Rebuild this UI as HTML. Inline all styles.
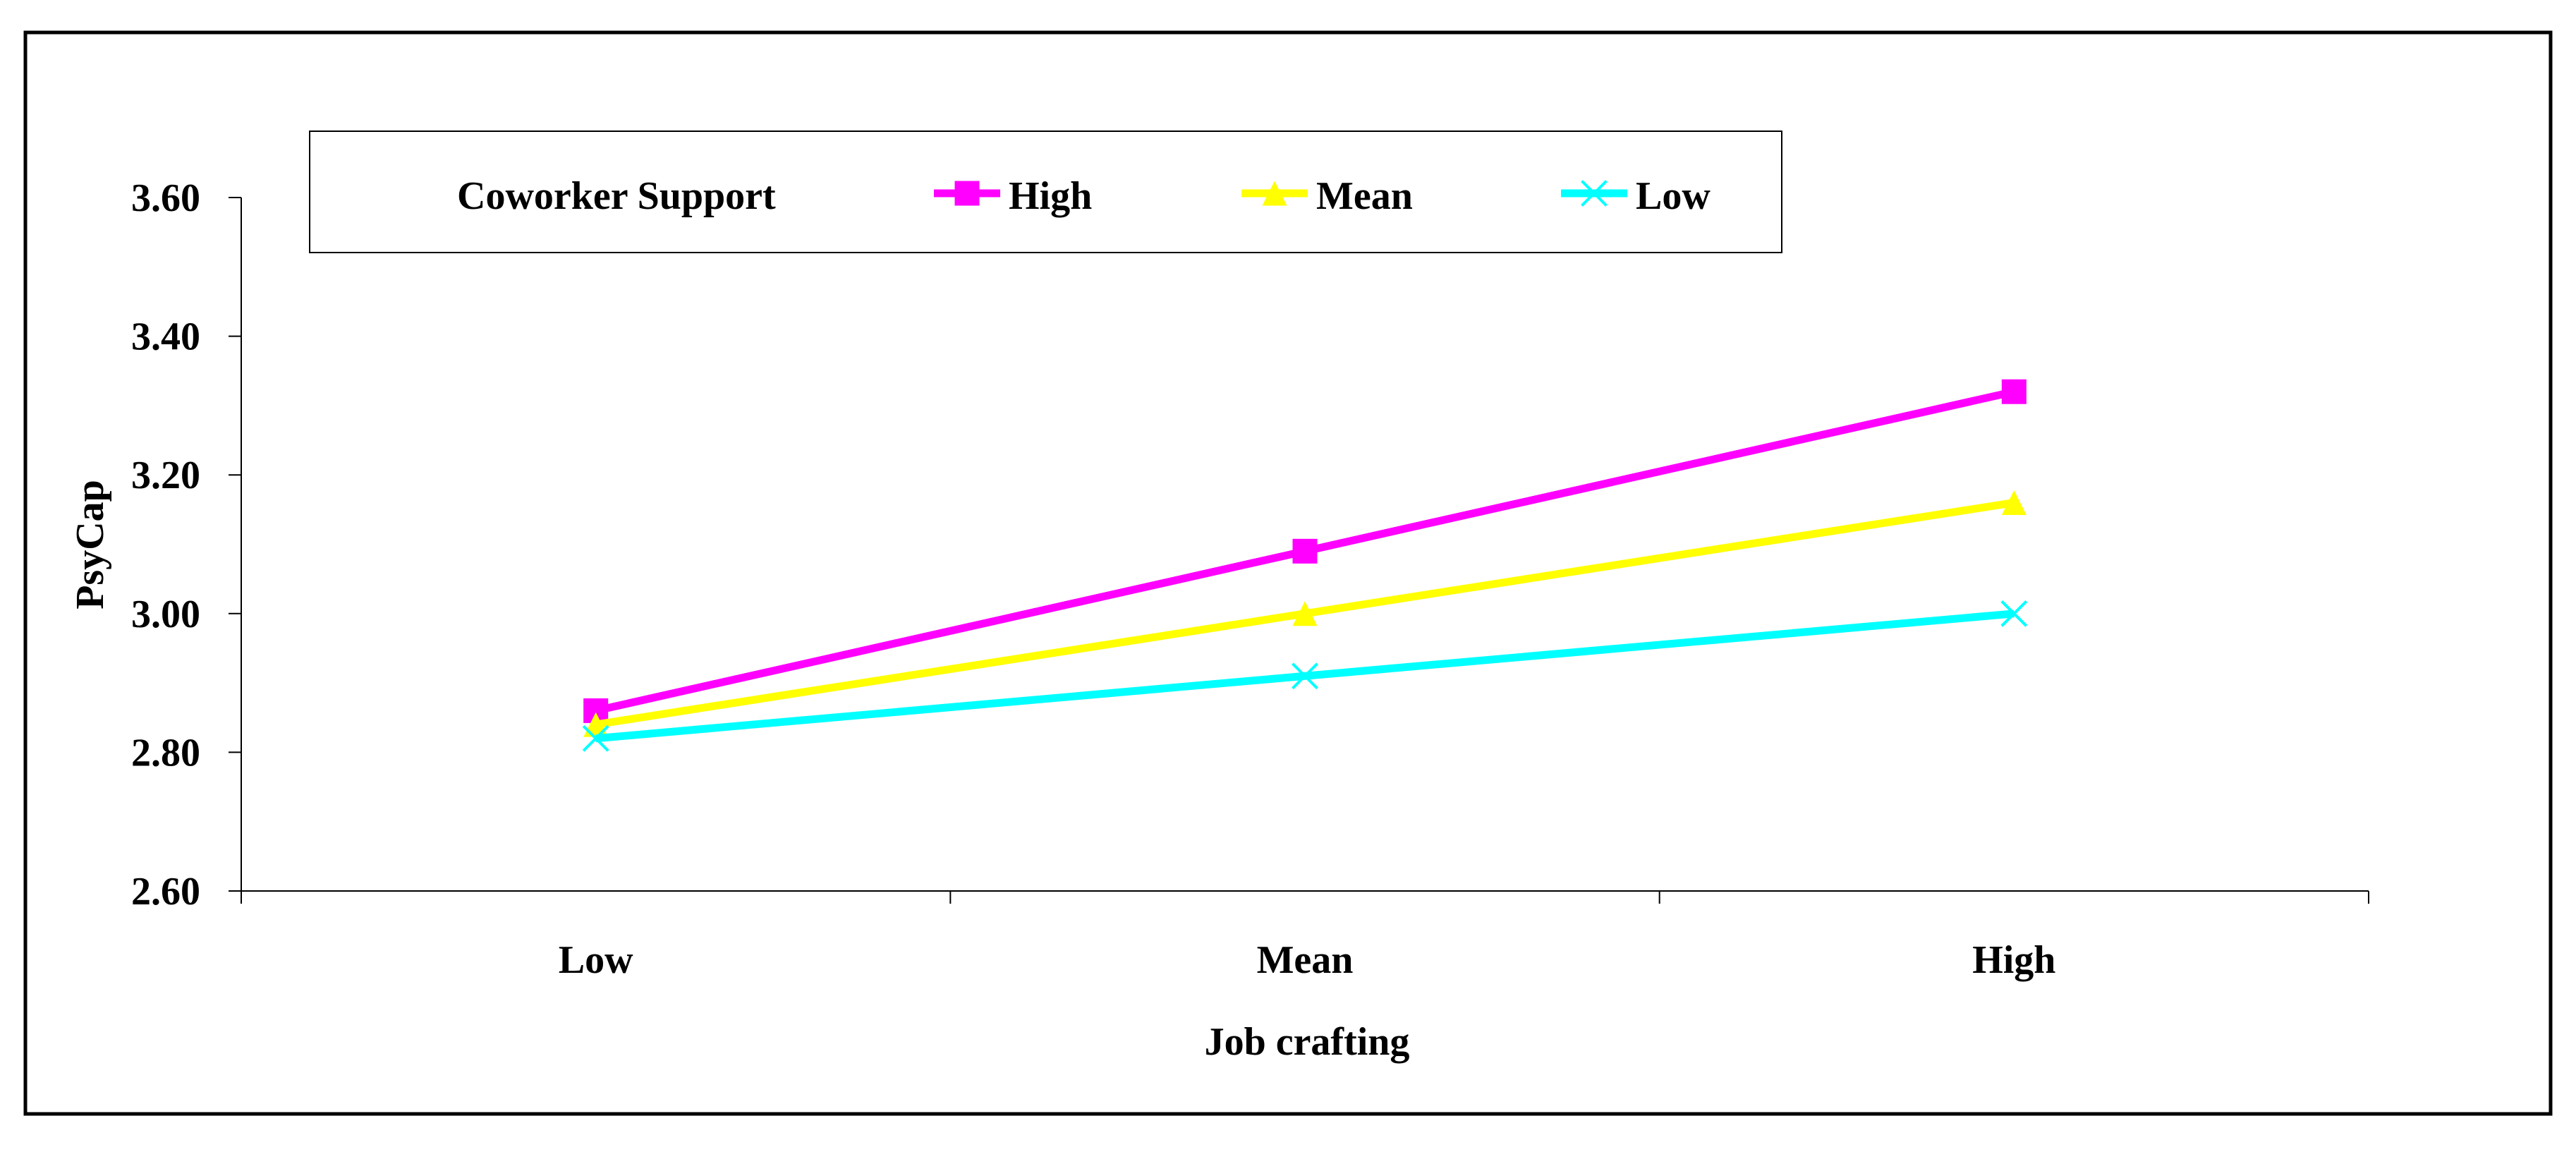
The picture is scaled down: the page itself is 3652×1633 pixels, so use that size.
<!DOCTYPE html>
<html><head><meta charset="utf-8">
<style>
html,body{margin:0;padding:0;background:#fff;}
svg{display:block;}
text{font-family:"Liberation Serif",serif;font-weight:bold;fill:#000;}
</style></head>
<body>
<svg id="chart" width="3652" height="1633" viewBox="0 0 3652 1633" xmlns="http://www.w3.org/2000/svg">
  <rect x="36" y="46" width="3580" height="1533" fill="#fff" stroke="#000" stroke-width="5"/>
  <g id="axes"></g>
  <g id="series"></g>
  <text x="0" y="0" font-size="56" text-anchor="middle" transform="translate(146,772) rotate(-90)">PsyCap</text>
  <text x="1853" y="1495" font-size="56" text-anchor="middle">Job crafting</text>
  <g>
    <rect x="439" y="186" width="2087" height="172" fill="#fff" stroke="#000" stroke-width="2"/>
    <text x="648" y="296" font-size="56">Coworker Support</text>
    <g id="legend-items"></g>
  </g>
</svg>
<script>
const categories = ["Low", "Mean", "High"];
const seriesNames = ["High", "Mean", "Low"];
const highValues = [2.86, 3.09, 3.32];
const meanValues = [2.84, 3.00, 3.16];
const lowValues = [2.82, 2.91, 3.00];
const yTicks = [2.60, 2.80, 3.00, 3.20, 3.40, 3.60];
const yTickLabels = ["2.60", "2.80", "3.00", "3.20", "3.40", "3.60"];

const NS = "http://www.w3.org/2000/svg";
const X0 = 342, X1 = 3358, YTOP = 280, YBOT = 1263, YMIN = 2.6, YMAX = 3.6;
function xScale(i){ const w = (X1 - X0) / categories.length; return X0 + w * (i + 0.5); }
function yScale(v){ return YBOT - (v - YMIN) / (YMAX - YMIN) * (YBOT - YTOP); }
function mk(tag, attrs, parent){ const e = document.createElementNS(NS, tag); for (const k in attrs) e.setAttribute(k, attrs[k]); parent.appendChild(e); return e; }

const axes = document.getElementById("axes");
let el = mk("line", {x1: X0, y1: YTOP, x2: X0, y2: YBOT + 18, stroke: "#000", "stroke-width": 2}, axes);


el = mk("line", {x1: X0, y1: YBOT, x2: X1, y2: YBOT, stroke: "#000", "stroke-width": 2}, axes);


yTicks.forEach((v, i) => {
  const y = yScale(v);
  const t = mk("line", {x1: X0 - 18, y1: y, x2: X0, y2: y, stroke: "#000", "stroke-width": 2}, axes);
  
  
  const lb = mk("text", {x: 284, y: y + 19, "font-size": 56, "text-anchor": "end"}, axes);
  lb.textContent = yTickLabels[i];
  
  
});
for (let i = 1; i <= categories.length; i++) {
  const x = X0 + (X1 - X0) / categories.length * i;
  const t = mk("line", {x1: x, y1: YBOT, x2: x, y2: YBOT + 18, stroke: "#000", "stroke-width": 2}, axes);
  
  
}
categories.forEach((c, i) => {
  const lb = mk("text", {x: xScale(i), y: 1379, "font-size": 56, "text-anchor": "middle"}, axes);
  lb.textContent = c;
  
  
});

const colors = ["#ff00ff", "#ffff00", "#00ffff"];
const markers = ["square", "triangle", "cross"];
const allValues = [highValues, meanValues, lowValues];

function drawMarker(g, type, x, y, color, s){
  let m;
  if (type === "square") m = mk("rect", {x: x - s/2, y: y - s/2, width: s, height: s, fill: color}, g);
  else if (type === "triangle") m = mk("polygon", {points: `${x},${y - s/2} ${x + s/2},${y + s/2} ${x - s/2},${y + s/2}`, fill: color}, g);
  else m = mk("path", {d: `M${x - s/2},${y - s/2}L${x + s/2},${y + s/2}M${x + s/2},${y - s/2}L${x - s/2},${y + s/2}`, stroke: color, "stroke-width": 4, fill: "none"}, g);
  return m;
}

const sg = document.getElementById("series");
allValues.forEach((vals, si) => {
  const g = mk("g", {}, sg);
  
  
  const pts = vals.map((v, i) => xScale(i) + "," + yScale(v)).join(" ");
  const pl = mk("polyline", {points: pts, fill: "none", stroke: colors[si], "stroke-width": 11}, g);
  
  
  vals.forEach((v, i) => {
    const m = drawMarker(g, markers[si], xScale(i), yScale(v), colors[si], 35);
    
    
  });
});

const li = document.getElementById("legend-items");
const legendX = [1371, 1807, 2260];
seriesNames.forEach((n, si) => {
  const g = mk("g", {}, li);
  
  
  const cx = legendX[si], cy = 274;
  mk("line", {x1: cx - 47, y1: cy, x2: cx + 47, y2: cy, stroke: colors[si], "stroke-width": 11}, g);
  drawMarker(g, markers[si], cx, cy, colors[si], 35);
  const t = mk("text", {x: cx + 59, y: 296, "font-size": 56}, g);
  t.textContent = n;
});
</script>
</body></html>
